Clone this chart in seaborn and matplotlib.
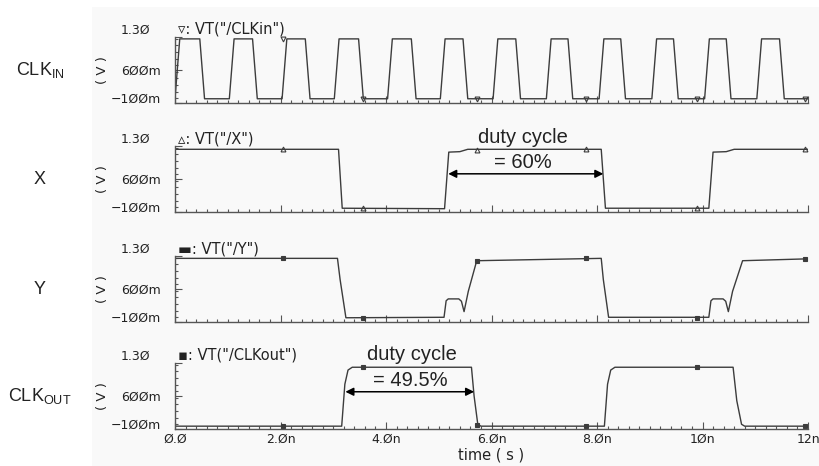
import matplotlib
matplotlib.use("Agg")
import matplotlib.pyplot as plt
from matplotlib.patches import Rectangle
from matplotlib.ticker import FixedLocator, MultipleLocator
from matplotlib.transforms import ScaledTranslation
import seaborn as sns
import pandas as pd

# Waveform data (time in ns, voltage in V)
clkin_rise = [0.0, 1.03, 2.03, 3.02, 4.03, 5.03, 6.03, 7.04, 8.04, 9.04, 10.04, 11.03]
clkin_fall = [0.47, 1.47, 2.47, 3.48, 4.48, 5.46, 6.46, 7.45, 8.45, 9.45, 10.45, 11.46]
clkin_high = 1.26
clkin_low = -0.01

x_t = [0.0, 3.10, 3.17, 5.11, 5.19, 5.40, 5.55, 8.08, 8.16, 10.12, 10.20, 10.45, 10.60, 12.0]
x_v = [1.23, 1.23, -0.02, -0.03, 1.17, 1.18, 1.23, 1.23, -0.02, -0.02, 1.17, 1.18, 1.23, 1.23]

y_t = [0.0, 3.08, 3.13, 3.24, 5.10, 5.14, 5.18, 5.38, 5.43, 5.48, 5.56, 5.72, 8.08, 8.12, 8.22,
       10.12, 10.16, 10.20, 10.39, 10.44, 10.49, 10.57, 10.76, 12.0]
y_v = [1.25, 1.25, 0.80, -0.01, 0.0, 0.35, 0.39, 0.39, 0.34, 0.12, 0.55, 1.20, 1.25, 0.80, 0.0,
       0.0, 0.35, 0.39, 0.39, 0.34, 0.12, 0.55, 1.20, 1.24]

out_t = [0.0, 3.16, 3.22, 3.28, 3.36, 5.62, 5.67, 5.74, 5.80, 8.14, 8.20, 8.26, 8.34,
         10.58, 10.65, 10.74, 10.80, 12.0]
out_v = [-0.04, -0.04, 0.85, 1.15, 1.21, 1.21, 0.60, 0.0, -0.04, -0.04, 0.85, 1.15, 1.21,
         1.21, 0.50, 0.0, -0.04, -0.04]

# marker positions on each trace
mark_t = [2.05, 3.56, 5.73, 7.80, 9.90, 11.95]
clkin_mark_v = [1.26, -0.01, -0.01, -0.01, -0.01, -0.01]
x_mark_v = [1.23, -0.02, 1.22, 1.23, -0.02, 1.23]
y_mark_v = [1.25, -0.01, 1.20, 1.25, -0.01, 1.24]
out_mark_v = [-0.04, 1.21, -0.02, -0.04, 1.21, -0.04]

signal_names = ["CLK$_\\mathregular{IN}$", "X", "Y", "CLK$_\\mathregular{OUT}$"]
trace_titles = ["\u25bf: VT(\"/CLKin\")", "\u25b5: VT(\"/X\")", "\u25ac: VT(\"/Y\")", "\u25aa: VT(\"/CLKout\")"]
marker_styles = ["v", "^", "s", "s"]
ytick_vals = [-0.1, 0.6, 1.3]
ytick_labels = ["\u22121\u00d8\u00d8m", "6\u00d8\u00d8m", "1.3\u00d8"]
xtick_vals = [0, 2, 4, 6, 8, 10, 12]
xtick_labels = ["\u00d8.\u00d8", "2.\u00d8n", "4.\u00d8n", "6.\u00d8n", "8.\u00d8n", "1\u00d8n", "12n"]

# build CLKin corner points from its edge times
clkin_t, clkin_v = [], []
for r, f in zip(clkin_rise, clkin_fall):
    clkin_t += [r, r + 0.09, f, f + 0.09]
    clkin_v += [clkin_low, clkin_high, clkin_high, clkin_low]
clkin_t.append(12.0)
clkin_v.append(clkin_low)

traces = [
    pd.DataFrame({"t": clkin_t, "v": clkin_v}),
    pd.DataFrame({"t": x_t, "v": x_v}),
    pd.DataFrame({"t": y_t, "v": y_v}),
    pd.DataFrame({"t": out_t, "v": out_v}),
]
marks = [clkin_mark_v, x_mark_v, y_mark_v, out_mark_v]

sns.set_theme(style="white")
plt.rcParams["font.family"] = ["DejaVu Sans"]
plt.rcParams["mathtext.fontset"] = "custom"
plt.rcParams["mathtext.rm"] = "Liberation Sans"

W, H = 819, 466
fig = plt.figure(figsize=(W / 100, H / 100), dpi=100)
fig.patch.set_facecolor("white")
fig.patches.append(Rectangle((92 / W, 0), 1 - 92 / W, 1 - 7 / H, transform=fig.transFigure,
                             facecolor="#f9f9f9", edgecolor="none", zorder=-5))

panel_tops = [37, 146, 256, 363]
panel_h = 66
left, right = 175, 808
line_col = "#3c3c3c"
txt_col = "#222222"
axes = []
for i in range(4):
    top = panel_tops[i]
    ax = fig.add_axes([left / W, 1 - (top + panel_h) / H, (right - left) / W, panel_h / H])
    ax.set_facecolor("none")
    sns.lineplot(data=traces[i], x="t", y="v", ax=ax, color=line_col, lw=1.0,
                 estimator=None, sort=False)
    ax.plot(mark_t, marks[i], ls="none", marker=marker_styles[i], ms=3.5 if i < 2 else 2.5,
            mfc="none" if i < 2 else line_col, mec=line_col, mew=0.8, clip_on=False)
    ax.set_xlim(0, 12)
    ax.set_ylim(-0.1, 1.3)
    for s in ["top", "right"]:
        ax.spines[s].set_visible(False)
    for s in ["left", "bottom"]:
        ax.spines[s].set_color("#555555")
        ax.spines[s].set_linewidth(1.0)
    ax.xaxis.set_major_locator(FixedLocator(xtick_vals))
    ax.xaxis.set_minor_locator(MultipleLocator(0.2))
    ax.yaxis.set_major_locator(FixedLocator(ytick_vals))
    ax.yaxis.set_minor_locator(MultipleLocator(0.14))
    ax.tick_params(which="both", direction="in", color="#555555", width=0.8)
    ax.tick_params(which="major", length=5)
    ax.tick_params(which="minor", length=2.5)
    ax.tick_params(axis="y", which="both", left=True, pad=10)
    ax.tick_params(axis="x", which="both", bottom=True, pad=3)
    ax.set_yticklabels(ytick_labels, fontsize=9, color=txt_col)
    yl = ax.get_yticklabels()
    yl[0].set_va("baseline")
    yl[2].set_va("bottom")
    yl[2].set_transform(yl[2].get_transform() + ScaledTranslation(-0.11, 0, fig.dpi_scale_trans))
    if i < 3:
        ax.set_xticklabels([])
        ax.set_xlabel("")
    else:
        ax.set_xticklabels(xtick_labels, fontsize=9, color=txt_col)
        ax.set_xlabel("time ( s )", fontsize=10.5, color=txt_col, labelpad=1)
    ax.set_ylabel("( V )", fontsize=9.5, color=txt_col)
    ax.yaxis.set_label_coords(-0.105, 0.5)
    ax.text(0.004, 1.0, trace_titles[i], transform=ax.transAxes, fontsize=10.5,
            color=txt_col, va="bottom", ha="left")
    fig.text(40 / W, 1 - (top + panel_h / 2) / H, signal_names[i], fontsize=13,
             family="Liberation Sans", ha="center", va="center", color=txt_col)
    axes.append(ax)

# duty cycle annotations
arrow_kw = dict(arrowstyle="<|-|>", color="black", lw=1.1, mutation_scale=12, shrinkA=0, shrinkB=0)
ax = axes[1]
ax.annotate("", xy=(8.12, 0.71), xytext=(5.18, 0.71), arrowprops=arrow_kw)
ax.text(6.6, 1.49, "duty cycle", fontsize=14.5, family="Liberation Sans", ha="center",
        va="center", color=txt_col, clip_on=False)
ax.text(6.6, 0.96, "= 60%", fontsize=14.5, family="Liberation Sans", ha="center",
        va="center", color=txt_col)
ax = axes[3]
ax.annotate("", xy=(5.67, 0.69), xytext=(3.23, 0.69), arrowprops=arrow_kw)
ax.text(4.5, 1.47, "duty cycle", fontsize=14.5, family="Liberation Sans", ha="center",
        va="center", color=txt_col, clip_on=False)
ax.text(4.47, 0.92, "= 49.5%", fontsize=14.5, family="Liberation Sans", ha="center",
        va="center", color=txt_col)

fig.savefig("out.png", dpi=100)
